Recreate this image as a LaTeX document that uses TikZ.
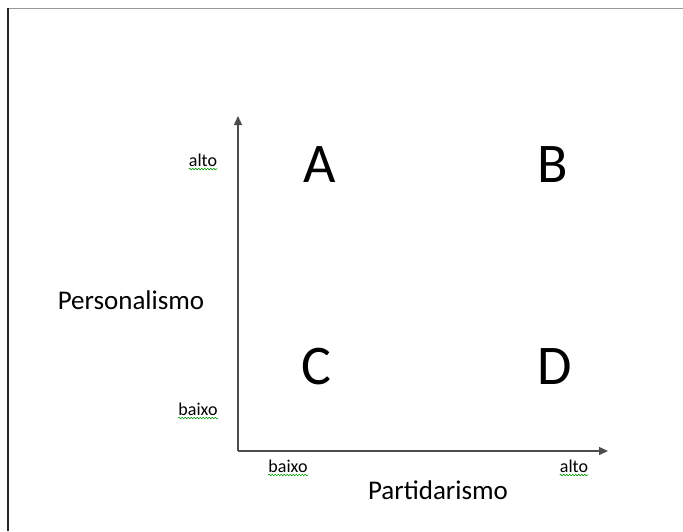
\documentclass[tikz,border=0pt]{standalone}
\usepackage{fontspec}
\setmainfont{Carlito}
\usetikzlibrary{arrows.meta,decorations.pathmorphing}
\begin{document}
\begin{tikzpicture}[x=1pt,y=-1pt,
  axis/.style={draw=black!70,line width=1.4pt,-{Triangle[length=9pt,width=8pt]}},
  quad/.style={inner sep=0pt,font=\fontsize{56}{56}\selectfont},
  title/.style={inner sep=0pt,font=\fontsize{27}{27}\selectfont},
  small/.style={inner sep=0pt,font=\fontsize{18}{18}\selectfont},
  squig/.style={draw=green!60!black,line width=0.6pt,decorate,decoration={snake,amplitude=0.8pt,segment length=3pt}}]
\useasboundingbox (0,0) rectangle (683,531);
\draw[black!40,line width=1.5pt] (8,8.5) -- (683,8.5);
\draw[black!85,line width=1.5pt] (8,8) -- (8,531);
\coordinate (O) at (238,451);
\coordinate (Ytop) at (238,116);
\coordinate (Xend) at (608,451);
\draw[axis] (O) -- (Ytop);
\draw[axis] (O) -- (Xend);
\node[quad] (A) at (320,165) {A};
\node[quad] (B) at (553,165) {B};
\node[quad] (C) at (316,367) {C};
\node[quad] (D) at (555,367) {D};
\node[title] (px) at (438,490) {Partidarismo};
\node[title] (py) at (131,300) {Personalismo};
\node[small] (ya) at (203,160) {alto};
\node[small] (yb) at (198,409) {baixo};
\node[small] (xb) at (288,466) {baixo};
\node[small] (xa) at (574,466) {alto};
\foreach \n in {ya,yb,xb,xa}{
  \draw[squig] ([yshift=-2.5pt]\n.south west) -- ([yshift=-2.5pt]\n.south east);
}
\end{tikzpicture}
\end{document}
